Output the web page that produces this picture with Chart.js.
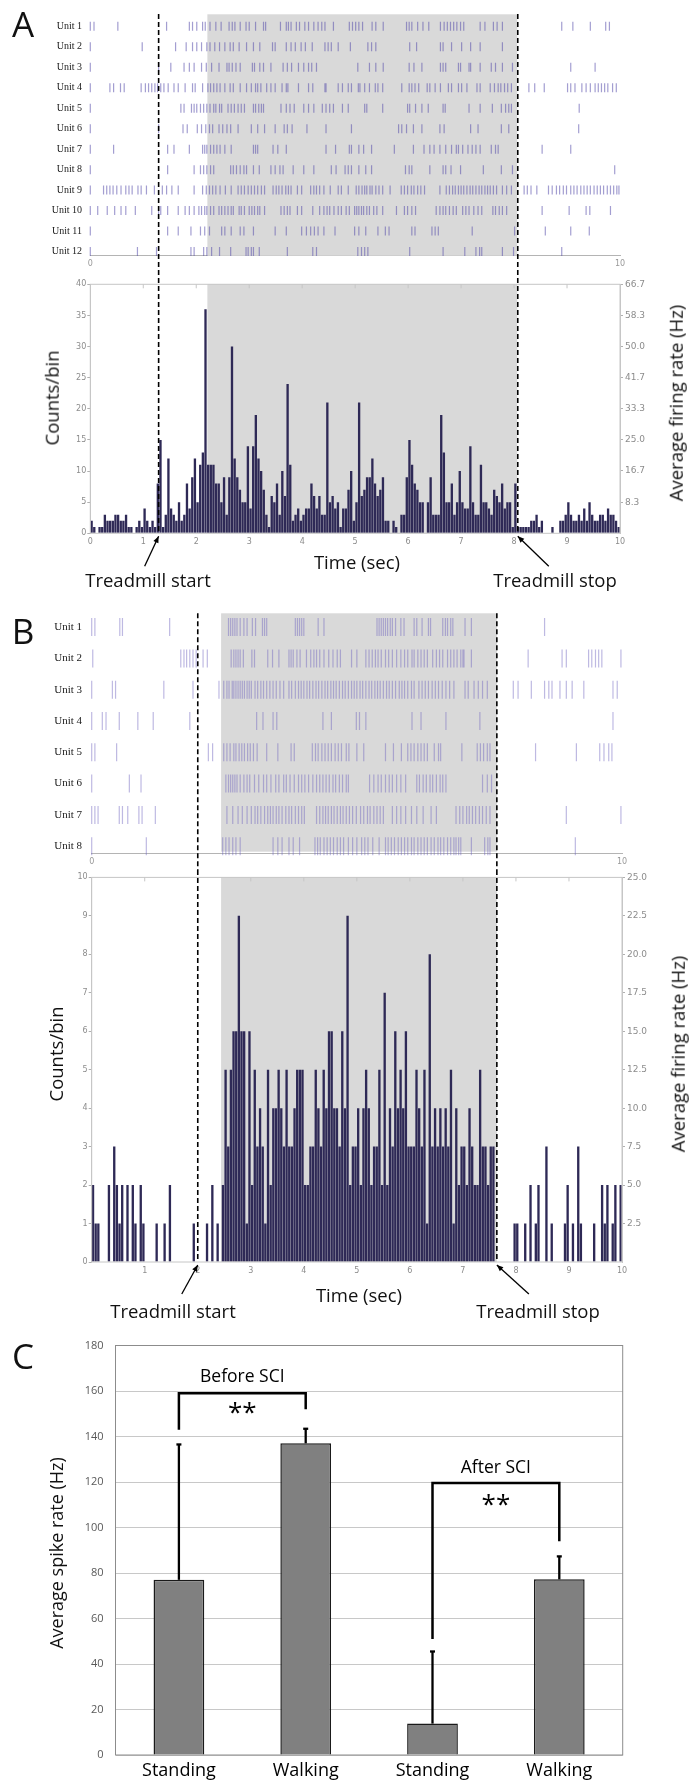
<!DOCTYPE html>
<html>
<head>
<meta charset="utf-8">
<script src="https://cdn.jsdelivr.net/npm/chart.js@4.4.1/dist/chart.umd.min.js"></script>
<style>
  body { margin: 0; background: #fff; }
  #fig { position: relative; width: 691px; height: 1785px; overflow: hidden; font-family: 'Open Sans', sans-serif; color: #111; }
  canvas { position: absolute; left: 0; }
  .lbl { position: absolute; transform: translate(-50%, -50%); white-space: nowrap; line-height: 1; }
  .rot { transform: translate(-50%, -50%) rotate(-90deg); }
  .panel { font-size: 35px; }
  .big { font-size: 18.5px; }
</style>
</head>
<body>
<div id="fig">
  <canvas id="rasA" width="691" height="270" style="top:0px"></canvas>
  <canvas id="histA" width="691" height="327" style="top:270px"></canvas>
  <canvas id="rasB" width="691" height="273" style="top:597px"></canvas>
  <canvas id="histB" width="691" height="455" style="top:870px"></canvas>
  <canvas id="barC" width="691" height="460" style="top:1325px"></canvas>

  <div class="lbl panel" style="left:23px;top:23px">A</div>
  <div class="lbl big rot" style="left:52px;top:398px">Counts/bin</div>
  <div class="lbl big rot" style="left:676px;top:403px">Average firing rate (Hz)</div>
  <div class="lbl big" style="left:357px;top:562px">Time (sec)</div>
  <div class="lbl big" style="left:148px;top:580px">Treadmill start</div>
  <div class="lbl big" style="left:555px;top:580px">Treadmill stop</div>

  <div class="lbl panel" style="left:23px;top:630px">B</div>
  <div class="lbl big rot" style="left:56px;top:1054px">Counts/bin</div>
  <div class="lbl big rot" style="left:678px;top:1054px">Average firing rate (Hz)</div>
  <div class="lbl big" style="left:359px;top:1295px">Time (sec)</div>
  <div class="lbl big" style="left:173px;top:1311px">Treadmill start</div>
  <div class="lbl big" style="left:538px;top:1311px">Treadmill stop</div>

  <div class="lbl panel" style="left:23px;top:1355px">C</div>
  <div class="lbl rot" style="left:56px;top:1553px;font-size:18px">Average spike rate (Hz)</div>
</div>

<script>
// ---- panel A: spike raster (seconds), one list per unit ----
const unitsA = ['Unit 1','Unit 2','Unit 3','Unit 4','Unit 5','Unit 6','Unit 7','Unit 8','Unit 9','Unit 10','Unit 11','Unit 12'];
const spikesA = [
  [0,0.07,0.52,1.44,1.87,1.93,2.01,2.12,2.17,2.26,2.37,2.47,2.62,2.68,2.73,2.83,2.94,3.0,3.12,3.27,3.31,3.59,3.7,3.74,3.79,3.89,3.95,4.05,4.12,4.22,4.3,4.37,4.43,4.59,4.89,4.95,5.01,5.07,5.14,5.32,5.39,5.53,5.97,6.02,6.07,6.18,6.28,6.39,6.61,6.68,6.74,6.8,6.86,6.92,6.99,7.05,7.36,7.45,7.61,7.68,7.78,8.9,9.11,9.44,9.73,9.8],
  [0,0.98,1.61,1.81,1.93,2.01,2.1,2.2,2.26,2.35,2.44,2.54,2.64,2.7,2.81,2.95,3.08,3.2,3.44,3.49,3.7,3.79,3.87,3.98,4.06,4.19,4.43,4.49,4.55,4.68,4.91,5.24,5.31,5.39,6.03,6.16,6.61,6.66,6.82,7.01,7.18,7.36,7.78],
  [0,1.29,1.52,1.77,1.87,1.96,2.1,2.19,2.29,2.43,2.58,2.62,2.68,2.75,2.83,3.06,3.1,3.2,3.27,3.41,3.64,3.72,3.8,3.93,4.03,4.12,4.18,4.27,5.05,5.27,5.39,5.53,6.02,6.11,6.26,6.61,6.66,6.71,6.95,6.99,7.15,7.18,7.36,7.57,7.65,7.78,7.97,9.07,9.53],
  [0,0.37,0.44,0.57,0.64,0.96,1.04,1.1,1.16,1.22,1.27,1.33,1.39,1.47,1.58,1.66,1.79,1.93,1.98,2.12,2.22,2.27,2.33,2.39,2.45,2.54,2.64,2.7,2.83,2.95,3.04,3.12,3.16,3.22,3.33,3.41,3.49,3.62,3.7,3.73,3.93,4.12,4.2,4.43,4.45,4.68,4.76,4.87,4.93,5.06,5.09,5.18,5.27,5.38,5.43,5.52,5.88,6.02,6.07,6.13,6.2,6.36,6.41,6.51,6.61,6.76,6.82,6.95,7.01,7.11,7.3,7.36,7.55,7.63,7.7,7.75,7.82,7.88,7.95,8.28,8.39,8.57,9.01,9.07,9.15,9.28,9.36,9.44,9.53,9.59,9.65,9.71,9.77,9.86,9.93],
  [0,1.71,1.77,1.91,1.96,2.01,2.08,2.14,2.2,2.26,2.33,2.37,2.44,2.48,2.6,2.66,2.72,2.79,2.85,2.91,3.08,3.12,3.18,3.23,3.27,3.6,3.7,3.77,3.85,4.03,4.12,4.22,4.38,4.45,4.52,4.59,4.76,4.87,5.18,5.22,5.52,5.99,6.03,6.14,6.26,6.38,6.66,6.7,7.15,7.36,7.59,7.76,7.84,7.9,7.95,9.23],
  [0,1.29,1.75,1.83,2.02,2.1,2.18,2.25,2.31,2.43,2.5,2.58,2.65,2.79,3.04,3.16,3.29,3.49,3.66,3.72,3.81,4.09,4.45,4.93,5.82,5.88,5.97,6.1,6.26,6.6,6.68,7.18,7.32,7.76,7.9,9.22],
  [0,0.44,1.46,1.58,1.87,2.12,2.16,2.2,2.27,2.33,2.39,2.45,2.54,2.66,3.08,3.12,3.16,3.45,3.54,3.7,4.45,4.63,4.89,4.93,5.07,5.16,5.31,5.74,6.1,6.3,6.41,6.49,6.6,6.71,6.82,6.91,6.95,7.03,7.13,7.21,7.28,7.36,7.57,7.65,7.7,8.53,9.07],
  [0,1.46,1.96,2.08,2.14,2.2,2.27,2.33,2.65,2.7,2.76,2.83,2.9,2.95,3.08,3.19,3.41,3.49,3.58,3.64,3.83,4.03,4.22,4.55,4.64,4.81,4.87,4.93,5.07,5.2,5.31,5.95,6.02,6.07,6.41,6.66,6.71,6.81,6.99,7.42,7.76,7.97,9.9],
  [0,0.25,0.31,0.37,0.43,0.5,0.58,0.67,0.73,0.79,0.9,0.96,1.06,1.21,1.36,1.44,1.54,1.66,1.96,2.12,2.19,2.25,2.31,2.37,2.45,2.55,2.66,2.79,2.85,2.91,2.98,3.04,3.1,3.16,3.23,3.29,3.45,3.51,3.56,3.62,3.69,3.74,3.79,3.91,3.99,4.16,4.22,4.27,4.33,4.41,4.53,4.68,4.74,4.87,5.02,5.07,5.13,5.18,5.22,5.28,5.32,5.39,5.45,5.52,5.66,5.87,5.93,5.99,6.06,6.11,6.18,6.24,6.31,6.6,6.72,6.78,6.84,6.89,6.95,7.0,7.05,7.11,7.17,7.22,7.28,7.34,7.39,7.45,7.5,7.55,7.61,7.67,7.78,7.86,7.95,8.19,8.25,8.32,8.43,8.65,8.72,8.8,8.86,8.93,8.99,9.07,9.13,9.19,9.26,9.32,9.38,9.44,9.51,9.57,9.63,9.69,9.76,9.82,9.88,9.94,9.98],
  [0,0.14,0.32,0.46,0.58,0.67,0.85,1.16,1.29,1.33,1.46,1.66,1.79,1.87,1.96,2.05,2.1,2.16,2.2,2.27,2.33,2.43,2.48,2.54,2.6,2.66,2.7,2.81,2.85,2.91,3.0,3.05,3.1,3.16,3.2,3.29,3.6,3.66,3.72,3.77,3.91,3.99,4.2,4.33,4.41,4.47,4.52,4.6,4.68,4.74,4.83,4.89,4.99,5.03,5.07,5.12,5.16,5.22,5.27,5.35,5.41,5.52,5.78,5.93,5.99,6.07,6.14,6.53,6.6,6.66,6.71,6.78,6.85,6.91,7.03,7.09,7.15,7.24,7.32,7.39,7.6,7.65,7.72,7.78,7.86,8.53,9.04,9.36,9.43,9.82],
  [0,1.46,1.66,1.9,2.08,2.16,2.25,2.48,2.54,2.66,2.83,2.9,3.08,3.49,3.7,3.99,4.08,4.16,4.23,4.3,4.41,4.62,4.99,5.07,5.2,5.43,5.57,5.64,6.07,6.13,6.45,6.51,6.57,7.21,8.01,8.59,9.07,9.42],
  [0,0.89,1.25,1.9,1.96,2.14,2.2,2.29,2.44,2.65,2.94,2.98,3.04,3.08,3.19,3.72,4.2,4.27,5.05,5.12,5.18,5.24,6.03,6.66,7.07,7.28,7.35,7.39,7.78,7.99,8.9]
];

// ---- panel A: counts per 50 ms bin, 200 bins over 10 s ----
const binsA = [
  2,1,0,1,1,3,2,2,2,3,3,2,2,3,1,1,0,1,2,1,4,2,1,2,1,8,15,1,3,12,4,3,2,5,2,3,8,4,9,12,5,11,13,
  36,11,11,11,8,8,5,9,3,9,30,12,9,7,5,5,14,4,14,19,
  12,10,7,3,1,6,5,8,3,10,6,24,
  11,2,3,4,2,3,4,4,8,6,4,6,3,3,21,5,6,4,
  5,1,4,4,7,10,2,5,21,
  6,7,9,9,12,8,6,7,9,2,2,0,2,1,0,3,3,9,15,11,8,7,5,5,0,5,9,3,3,3,19,13,5,5,8,3,5,10,5,4,4,14,
  5,3,3,11,5,5,4,3,7,6,5,8,4,5,5,1,8,1,
  1,1,1,1,2,2,3,1,2,0,0,0,1,0,0,2,2,3,5,3,2,2,3,2,4,2,5,3,2,2,3,3,2,4,3,3,2,1
];
const rateTicksA = [8.3, 16.7, 25.0, 33.3, 41.7, 50.0, 58.3, 66.7];
const timeTicksA = [0, 1, 2, 3, 4, 5, 6, 7, 8, 9, 10];
const treadmillA = [1.29, 8.07];   // start, stop (s)
const walkingA = [2.21, 8.06];     // shaded period (s)

// ---- panel B ----
const unitsB = ['Unit 1','Unit 2','Unit 3','Unit 4','Unit 5','Unit 6','Unit 7','Unit 8'];
const spikesB = [
  [0,0.06,0.53,0.58,1.47,2.58,2.62,2.66,2.7,2.74,2.8,2.87,2.93,3.03,3.09,3.22,3.26,3.3,3.84,3.88,3.92,3.96,4.0,4.27,4.38,5.38,5.42,5.46,5.5,5.54,5.58,5.63,5.67,5.73,5.83,5.89,6.08,6.13,6.23,6.35,6.39,6.62,6.67,6.71,6.77,6.81,7.04,7.16,8.54],
  [0.02,1.68,1.74,1.79,1.85,1.91,1.97,2.1,2.18,2.63,2.68,2.72,2.76,2.8,2.86,3.02,3.07,3.32,3.41,3.53,3.72,3.76,3.8,3.87,3.93,4.05,4.13,4.19,4.24,4.3,4.38,4.47,4.55,4.63,4.69,4.9,5.0,5.17,5.23,5.29,5.35,5.4,5.46,5.54,5.6,5.67,5.75,5.83,5.9,5.96,6.04,6.08,6.15,6.21,6.27,6.33,6.43,6.5,6.56,6.62,6.71,6.77,6.83,6.89,6.96,7.0,7.02,7.16,8.23,8.87,8.95,9.37,9.43,9.5,9.56,9.62,9.98],
  [0,0.39,0.45,1.36,1.91,2.4,2.49,2.55,2.59,2.65,2.68,2.72,2.76,2.8,2.84,2.88,2.93,2.97,3.01,3.08,3.13,3.19,3.24,3.3,3.36,3.42,3.48,3.55,3.62,3.72,3.77,3.84,3.9,3.95,4.0,4.06,4.11,4.17,4.23,4.28,4.34,4.4,4.45,4.51,4.56,4.61,4.67,4.73,4.78,4.84,4.9,4.95,5.0,5.06,5.11,5.17,5.23,5.28,5.34,5.39,5.44,5.5,5.56,5.61,5.67,5.73,5.8,5.85,5.9,5.96,6.03,6.08,6.17,6.23,6.29,6.35,6.42,6.48,6.54,6.61,6.68,6.75,6.83,7.04,7.1,7.21,7.29,7.37,7.46,7.95,8.04,8.29,8.54,8.62,8.68,8.83,8.95,9.06,9.28,9.83,9.91],
  [0,0.2,0.27,0.52,0.87,1.16,1.85,3.11,3.23,3.42,3.49,4.36,4.52,4.99,5.05,5.17,6.04,6.21,6.68,7.32,9.83],
  [0,0.06,0.47,2.2,2.28,2.49,2.55,2.61,2.68,2.72,2.78,2.83,2.88,2.94,2.99,3.05,3.12,3.3,3.51,3.76,3.82,4.16,4.22,4.27,4.34,4.4,4.46,4.52,4.59,4.65,4.71,4.8,4.85,5.0,5.13,5.54,5.69,5.84,5.96,6.02,6.08,6.15,6.21,6.27,6.33,6.46,6.54,6.58,6.98,7.27,7.33,7.39,7.46,7.51,8.37,9.14,9.58,9.66,9.75,9.81],
  [0,0.71,0.93,2.53,2.58,2.62,2.66,2.7,2.74,2.8,2.87,2.93,2.98,3.07,3.15,3.24,3.3,3.38,3.47,3.53,3.62,3.67,3.74,3.82,3.9,3.96,4.02,4.09,4.17,4.24,4.3,4.36,4.42,4.48,4.55,4.6,4.67,4.73,4.8,4.84,5.24,5.32,5.4,5.46,5.54,5.61,5.67,5.75,5.83,5.92,6.13,6.18,6.25,6.31,6.38,6.43,6.5,6.57,6.62,6.68,7.37,7.46,7.54],
  [0,0.06,0.12,0.52,0.58,0.68,0.89,0.95,1.2,2.55,2.66,2.76,2.84,2.93,3.01,3.08,3.13,3.19,3.26,3.32,3.37,3.42,3.48,3.53,3.59,3.66,3.72,3.77,3.84,3.9,3.96,4.01,4.24,4.3,4.36,4.41,4.46,4.52,4.57,4.63,4.69,4.74,4.8,4.86,4.92,4.99,5.07,5.13,5.2,5.25,5.32,5.38,5.44,5.5,5.67,5.75,5.83,5.92,6.03,6.13,6.25,6.4,6.5,6.87,6.94,7.0,7.07,7.12,7.18,7.24,7.31,7.37,7.44,7.51,8.95,9.98],
  [0,1.03,2.47,2.53,2.59,2.66,2.72,2.8,3.42,3.51,3.59,3.72,3.8,3.92,4.21,4.26,4.31,4.38,4.44,4.5,4.56,4.63,4.69,4.75,4.84,4.92,5.0,5.09,5.15,5.21,5.3,5.42,5.54,5.59,5.65,5.71,5.78,5.84,5.9,5.96,6.03,6.08,6.15,6.21,6.27,6.33,6.4,6.46,6.53,6.58,6.64,6.71,6.77,6.83,6.87,6.92,6.96,7.16,7.41,7.47,7.51,9.12]
];
const binsB = [
  2,1,1,0,0,0,2,0,3,2,1,2,0,2,0,2,1,0,2,1,0,0,0,0,1,0,0,1,0,2,0,0,0,0,0,0,0,0,1,0,
  0,0,0,1,0,2,0,1,0,2,
  5,3,5,6,6,9,6,6,1,6,2,5,3,4,3,1,5,2,4,4,5,4,3,5,3,3,4,5,5,5,2,2,3,3,5,4,3,5,4,6,6,4,4,
  3,6,4,9,2,3,3,4,2,4,5,4,2,3,3,5,2,7,2,4,3,6,4,5,4,6,3,3,3,5,4,3,5,1,8,3,4,3,4,3,4,3,5,1,4,2,3,3,2,4,
  3,2,2,5,3,3,2,3,3,0,0,
  0,0,0,0,0,1,1,0,0,1,0,2,0,1,2,0,0,3,0,1,0,0,0,0,1,2,0,1,0,3,1,0,0,0,0,1,0,0,2,1,2,0,1,2,0,2
];
const rateTicksB = [2.5, 5.0, 7.5, 10.0, 12.5, 15.0, 17.5, 20.0, 22.5, 25.0];
const timeTicksB = [1, 2, 3, 4, 5, 6, 7, 8, 9, 10];
const treadmillB = [2.0, 7.64];
const walkingB = [2.44, 7.64];
const rasterTicks = [0, 10];

// ---- panel C ----
const conditions = ['Standing', 'Walking', 'Standing', 'Walking'];
const meanRate = [77, 137, 13.8, 77.2];
const errUp = [59.5, 6.4, 31.7, 10.1];
const brackets = [
  { from: 0, to: 1, legFrom: 143, legTo: 152, top: 159, label: 'Before SCI', labelAt: 166, starsAt: 153 },
  { from: 2, to: 3, legFrom: 51, legTo: 94, top: 119.6, label: 'After SCI', labelAt: 126, starsAt: 112.5 }
];

Chart.defaults.font.family = "'DejaVu Sans', sans-serif";
Chart.defaults.color = '#8c8c8c';

const BAR = '#2e2956';
const SHADE = '#d9d9d9';

function arrow(ctx, x0, y0, x1, y1) {
  const ang = Math.atan2(y1 - y0, x1 - x0), h = 7;
  ctx.beginPath(); ctx.moveTo(x0, y0); ctx.lineTo(x1, y1); ctx.stroke();
  ctx.beginPath(); ctx.moveTo(x1, y1);
  ctx.lineTo(x1 - h * Math.cos(ang - 0.4), y1 - h * Math.sin(ang - 0.4));
  ctx.lineTo(x1 - h * Math.cos(ang + 0.4), y1 - h * Math.sin(ang + 0.4));
  ctx.closePath(); ctx.fill();
}

// shading, dashed treadmill lines, frame and arrows
const eventLines = {
  id: 'eventLines',
  beforeDatasetsDraw(chart, args, o) {
    const a = chart.chartArea, t = chart.scales.t, ctx = chart.ctx;
    const x0 = t.getPixelForValue(o.shade[0]), x1 = t.getPixelForValue(o.shade[1]);
    ctx.save();
    ctx.fillStyle = SHADE;
    ctx.fillRect(x0, a.top, x1 - x0, a.bottom - a.top - (o.shadeInset || 0));
    ctx.restore();
  },
  afterDatasetsDraw(chart, args, o) {
    const a = chart.chartArea, t = chart.scales.t, ctx = chart.ctx;
    ctx.save();
    if (o.frame) {
      ctx.strokeStyle = '#c6c6c6'; ctx.lineWidth = 1;
      ctx.strokeRect(a.left, a.top, a.right - a.left, a.bottom - a.top);
      for (let s = 1; s < 10; s++) {
        const x = t.getPixelForValue(s);
        ctx.beginPath(); ctx.moveTo(x, a.top); ctx.lineTo(x, a.top + 4); ctx.stroke();
      }
    }
    ctx.strokeStyle = '#000'; ctx.lineWidth = 1.6; ctx.setLineDash([5, 3]);
    const yTop = o.lineTop === 'area' ? a.top : o.lineTop;
    const yBot = o.lineBottom === 'area' ? a.bottom : chart.height;
    o.lines.forEach(v => {
      const x = t.getPixelForValue(v);
      ctx.beginPath(); ctx.moveTo(x, yTop); ctx.lineTo(x, yBot); ctx.stroke();
    });
    ctx.setLineDash([]);
    if (o.arrows) {
      ctx.lineWidth = 1.3; ctx.fillStyle = '#000';
      o.lines.forEach((v, i) => {
        const x = t.getPixelForValue(v), y = a.bottom + 3;
        const d = o.arrows[i];
        arrow(ctx, x + d[0], y + d[1], x, y);
      });
    }
    ctx.restore();
  }
};

function rasterPoints(spikes) {
  const pts = [];
  spikes.forEach((ts, u) => ts.forEach(t => pts.push({ x: t, y: u + 1 })));
  return pts;
}

function raster(id, spikes, units, o) {
  return new Chart(document.getElementById(id), {
    type: 'scatter',
    data: {
      datasets: [{
        data: rasterPoints(spikes),
        xAxisID: 't', yAxisID: 'y',
        pointStyle: 'line', pointRotation: 90,
        pointRadius: o.tick, pointHoverRadius: o.tick,
        pointBorderColor: o.color, pointBorderWidth: 1.2,
        clip: 6
      }]
    },
    options: {
      responsive: false, animation: false, events: [],
      layout: { padding: { top: o.top, right: o.right, left: 0, bottom: 0 } },
      plugins: {
        legend: { display: false }, tooltip: { enabled: false },
        eventLines: { shade: o.shade, lines: o.lines, lineTop: o.lineTop, lineBottom: 'canvas', shadeInset: o.inset }
      },
      scales: {
        t: {
          type: 'linear', axis: 'x', position: 'bottom', min: 0, max: 10, offset: false,
          afterBuildTicks: s => { s.ticks = rasterTicks.map(v => ({ value: v })); },
          afterFit: s => { s.height = o.axisH; },
          grid: { display: false, drawTicks: false },
          border: { display: true, color: '#b4b4b4' },
          ticks: { font: { size: 8 }, color: '#999', padding: 3, maxRotation: 0, autoSkip: false }
        },
        y: {
          type: 'linear', min: o.ymin, max: o.ymax, reverse: true,
          afterBuildTicks: s => { s.ticks = units.map((_, i) => ({ value: i + 1 })); },
          afterFit: s => { s.width = o.left; },
          grid: { display: false, drawTicks: false },
          border: { display: false },
          ticks: {
            callback: v => units[v - 1], autoSkip: false,
            font: { family: "'Liberation Serif', serif", size: o.unitFont }, color: '#1a1a1a', padding: o.left - o.labelRight
          }
        }
      }
    },
    plugins: [eventLines]
  });
}

function histogram(id, bins, o) {
  return new Chart(document.getElementById(id), {
    type: 'bar',
    data: {
      labels: bins.map((_, i) => i),
      datasets: [{
        data: bins, backgroundColor: BAR,
        barPercentage: 1, categoryPercentage: 0.88,
        xAxisID: 'x', yAxisID: 'y'
      }]
    },
    options: {
      responsive: false, animation: false, events: [],
      layout: { padding: { top: o.top, right: 0, left: 0, bottom: 0 } },
      plugins: {
        legend: { display: false }, tooltip: { enabled: false },
        eventLines: { shade: o.shade, lines: o.lines, lineTop: 0, lineBottom: 'area', frame: true, arrows: o.arrows }
      },
      scales: {
        x: { type: 'category', display: false },
        t: {
          type: 'linear', axis: 'x', position: 'bottom', min: 0, max: 10, offset: false,
          afterBuildTicks: s => { s.ticks = o.timeTicks.map(v => ({ value: v })); },
          afterFit: s => { s.height = o.bottomH; },
          grid: { display: false, drawTicks: false, offset: false },
          border: { display: false },
          ticks: { font: { size: 8 }, color: '#8c8c8c', padding: 4, maxRotation: 0, autoSkip: false }
        },
        y: {
          position: 'left', min: 0, max: o.countMax,
          afterFit: s => { s.width = o.left; },
          grid: { drawOnChartArea: false, tickLength: 3, color: '#b0b0b0' },
          border: { color: '#c6c6c6' },
          ticks: { stepSize: o.countStep, font: { size: 8 }, color: '#8c8c8c', padding: 1 }
        },
        y1: {
          position: 'right', min: 0, max: o.rateMax,
          afterBuildTicks: s => { s.ticks = o.rateTicks.map(v => ({ value: v })); },
          afterFit: s => { s.width = o.right; },
          grid: { drawOnChartArea: false, tickLength: 3, color: '#b0b0b0' },
          border: { color: '#c6c6c6' },
          ticks: { callback: v => v.toFixed(1), autoSkip: false, font: { size: 9 }, color: '#8c8c8c', padding: 2 }
        }
      }
    },
    plugins: [eventLines]
  });
}

raster('rasA', spikesA, unitsA, {
  tick: 4.5, color: 'rgba(88,78,172,0.55)', top: 6.7, right: 71, left: 90.3, labelRight: 82,
  axisH: 14, ymin: 0.42, ymax: 12.2, unitFont: 10,
  shade: walkingA, lines: treadmillA, lineTop: 14, inset: 0
});
histogram('histA', binsA, {
  top: 14.3, bottomH: 63.7, left: 90.3, right: 71,
  countMax: 40, countStep: 5, rateMax: 66.7, rateTicks: rateTicksA, timeTicks: timeTicksA,
  shade: walkingA, lines: treadmillA, arrows: [[-14, 30], [31, 30]]
});
raster('rasB', spikesB, unitsB, {
  tick: 9, color: 'rgba(110,100,190,0.45)', top: 10.7, right: 69, left: 91.7, labelRight: 82,
  axisH: 16, ymin: 0.56, ymax: 8.24, unitFont: 11,
  shade: walkingB, lines: treadmillB, lineTop: 'area', inset: 2
});
histogram('histB', binsB, {
  top: 7, bottomH: 63, left: 91.7, right: 69,
  countMax: 10, countStep: 1, rateMax: 25, rateTicks: rateTicksB, timeTicks: timeTicksB,
  shade: walkingB, lines: treadmillB, arrows: [[-16, 29], [32, 29]]
});

// ---- panel C: bar chart with error bars and significance brackets ----
const errorBars = {
  id: 'errorBars',
  beforeDatasetsDraw(chart) {
    const a = chart.chartArea, ctx = chart.ctx;
    ctx.save(); ctx.strokeStyle = '#8c8c8c'; ctx.lineWidth = 1;
    ctx.strokeRect(a.left, a.top, a.right - a.left, a.bottom - a.top);
    ctx.restore();
  },
  afterDatasetsDraw(chart) {
    const ctx = chart.ctx, xs = chart.scales.x, ys = chart.scales.y;
    ctx.save();
    ctx.strokeStyle = '#000'; ctx.fillStyle = '#000'; ctx.lineWidth = 2.3;
    meanRate.forEach((m, i) => {
      const x = xs.getPixelForValue(i), y0 = ys.getPixelForValue(m), y1 = ys.getPixelForValue(m + errUp[i]);
      ctx.beginPath(); ctx.moveTo(x, y0); ctx.lineTo(x, y1); ctx.stroke();
      ctx.beginPath(); ctx.moveTo(x - 2.5, y1); ctx.lineTo(x + 2.5, y1); ctx.stroke();
    });
    ctx.lineWidth = 2.5;
    brackets.forEach(b => {
      const xl = xs.getPixelForValue(b.from), xr = xs.getPixelForValue(b.to), yt = ys.getPixelForValue(b.top);
      ctx.beginPath();
      ctx.moveTo(xl, ys.getPixelForValue(b.legFrom)); ctx.lineTo(xl, yt);
      ctx.lineTo(xr, yt); ctx.lineTo(xr, ys.getPixelForValue(b.legTo));
      ctx.stroke();
      const xm = (xl + xr) / 2;
      ctx.textAlign = 'center'; ctx.textBaseline = 'middle';
      ctx.font = "17.5px 'Open Sans'";
      ctx.fillText(b.label, xm, ys.getPixelForValue(b.labelAt));
      ctx.textBaseline = 'alphabetic';
      ctx.font = "26px 'Open Sans'";
      ctx.fillText('**', xm, ys.getPixelForValue(b.starsAt) + 14);
    });
    ctx.restore();
  }
};

new Chart(document.getElementById('barC'), {
  type: 'bar',
  data: {
    labels: conditions,
    datasets: [{
      data: meanRate, backgroundColor: '#808080', borderColor: '#1a1a1a', borderWidth: 1.5,
      barPercentage: 0.4, categoryPercentage: 1
    }]
  },
  options: {
    responsive: false, animation: false, events: [],
    layout: { padding: { top: 20.5, right: 68.3, left: 0, bottom: 0 } },
    plugins: { legend: { display: false }, tooltip: { enabled: false } },
    scales: {
      x: {
        grid: { display: false, drawTicks: false }, border: { display: false },
        afterFit: s => { s.height = 30; },
        ticks: { font: { family: "'Open Sans'", size: 18 }, color: '#000', padding: 5 }
      },
      y: {
        min: 0, max: 180,
        afterFit: s => { s.width = 115.5; },
        grid: { color: '#c8c8c8', drawTicks: false }, border: { display: false },
        ticks: { stepSize: 20, font: { family: "'Open Sans'", size: 11 }, color: '#595959', padding: 12 }
      }
    }
  },
  plugins: [errorBars]
});
</script>
</body>
</html>
